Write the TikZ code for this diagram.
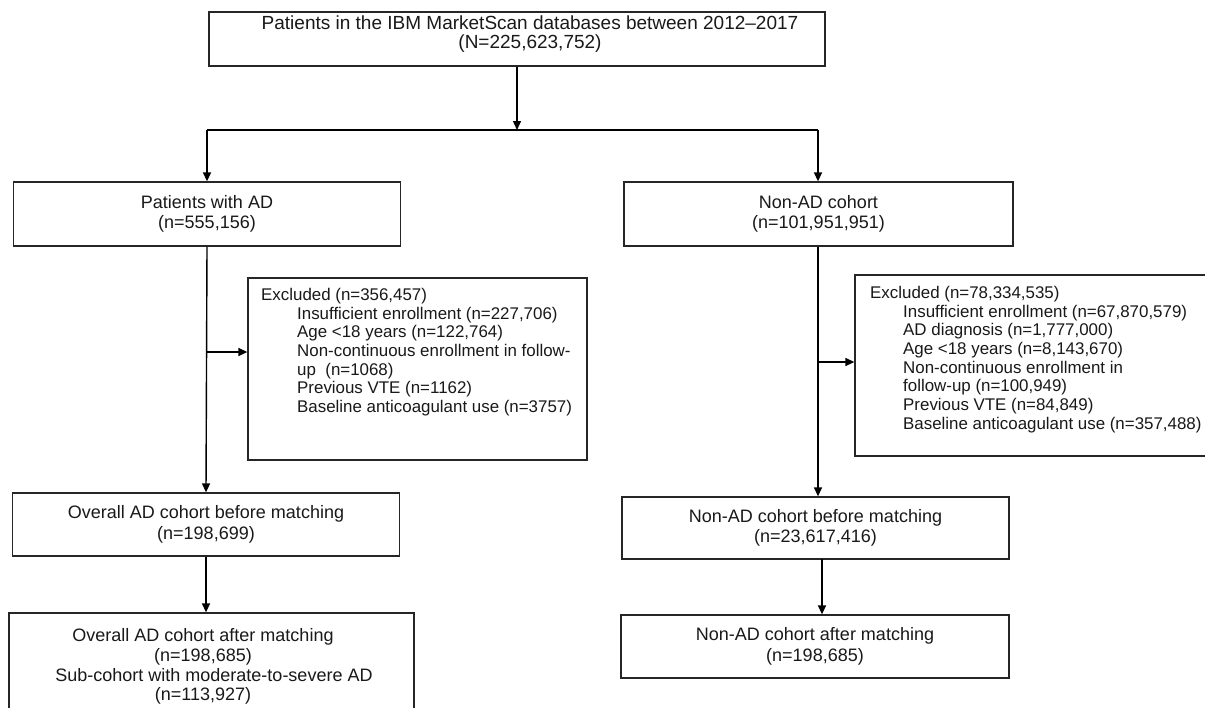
\documentclass[tikz,border=0pt]{standalone}
\usepackage{fontspec}
\setmainfont{Liberation Sans}
\usetikzlibrary{arrows.meta}
\begin{document}
\begin{tikzpicture}[x=1pt,y=-1pt,
  box/.style={draw=black!85, line width=1.3pt, inner sep=0pt, align=center,
    font=\fontsize{18}{20.5}\selectfont, text=black!90},
  boxtext/.style={inner sep=0pt, align=center, font=\fontsize{18}{20.5}\selectfont, text=black!90},
  extext/.style={anchor=north west, inner sep=0pt, align=left,
    font=\fontsize{16.9}{18.7}\selectfont, text=black!90},
  conn/.style={line width=1.4pt, black},
  arr/.style={conn, -{Triangle[length=9pt,width=8pt]}}
]
\useasboundingbox (0,0) rectangle (1205,707);
\clip (0,0) rectangle (1205,707);
\fill[white] (0,0) rectangle (1205,707);

% boxes
\node[box, minimum width=616pt, minimum height=54pt] (top) at (517,39) {};
\node[boxtext, font=\fontsize{19}{19.5}\selectfont] (toptext) at (530,34) {Patients in the IBM MarketScan databases between 2012–2017\\(N=225,623,752)};

\node[box, minimum width=387pt, minimum height=64pt] (ad) at (207,214) {Patients with AD\\(n=555,156)};
\node[box, minimum width=389pt, minimum height=64pt] (nonad) at (818.5,214) {Non-AD cohort\\(n=101,951,951)};

\node[box, minimum width=339pt, minimum height=182pt] (exl) at (417.5,369) {};
\node[extext] (exltext) at (261,288) {Excluded (n=356,457)\\
\hspace*{36pt}Insufficient enrollment (n=227,706)\\
\hspace*{36pt}Age <18 years (n=122,764)\\
\hspace*{36pt}Non-continuous enrollment in follow-\\
\hspace*{36pt}up\ \ (n=1068)\\
\hspace*{36pt}Previous VTE (n=1162)\\
\hspace*{36pt}Baseline anticoagulant use (n=3757)};

\node[box, minimum width=360pt, minimum height=181pt] (exr) at (1035,365.5) {};
\node[extext] (exrtext) at (870,286) {Excluded (n=78,334,535)\\
\hspace*{33pt}Insufficient enrollment (n=67,870,579)\\
\hspace*{33pt}AD diagnosis (n=1,777,000)\\
\hspace*{33pt}Age <18 years (n=8,143,670)\\
\hspace*{33pt}Non-continuous enrollment in\\
\hspace*{33pt}follow-up (n=100,949)\\
\hspace*{33pt}Previous VTE (n=84,849)\\
\hspace*{33pt}Baseline anticoagulant use (n=357,488)};

\node[box, minimum width=387pt, minimum height=63pt] (befl) at (206,524.5) {Overall AD cohort before matching\\(n=198,699)};
\node[box, minimum width=387pt, minimum height=62pt] (befr) at (815.5,528) {Non-AD cohort before matching\\(n=23,617,416)};

\node[box, minimum width=405pt, minimum height=107pt] (aftl) at (211.5,666.5) {};
\node[boxtext, font=\fontsize{18}{19.7}\selectfont] (aftltext) at (203,666.5) {Overall AD cohort after matching\\(n=198,685)\\\hspace*{22pt}Sub-cohort with moderate-to-severe AD\\(n=113,927)};
\node[box, minimum width=388pt, minimum height=63pt] (aftr) at (815,646.5) {Non-AD cohort after matching\\(n=198,685)};

% connectors
\coordinate (split) at (517,130);
\coordinate (jl) at (207,130);
\coordinate (jr) at (818,130);
\coordinate (bl) at (207,352);
\coordinate (br) at (818,362);
\coordinate (rb) at (822,559);

\draw[arr] (top.south) -- (split);
\draw[conn] (jl) -- (jr);
\draw[arr] (jl) -- (ad.north);
\draw[arr] (jr) -- (jr |- nonad.north);
\draw[arr] (ad.south) -- (befl.north);
\draw[arr] (bl) -- (bl -| exl.west);
\draw[arr] (nonad.south -| jr) -- (jr |- befr.north);
\draw[arr] (br) -- (br -| exr.west);
\draw[arr] (befl.south) -- (befl.south |- aftl.north);
\draw[arr] (rb) -- (rb |- aftr.north);
\end{tikzpicture}
\end{document}
